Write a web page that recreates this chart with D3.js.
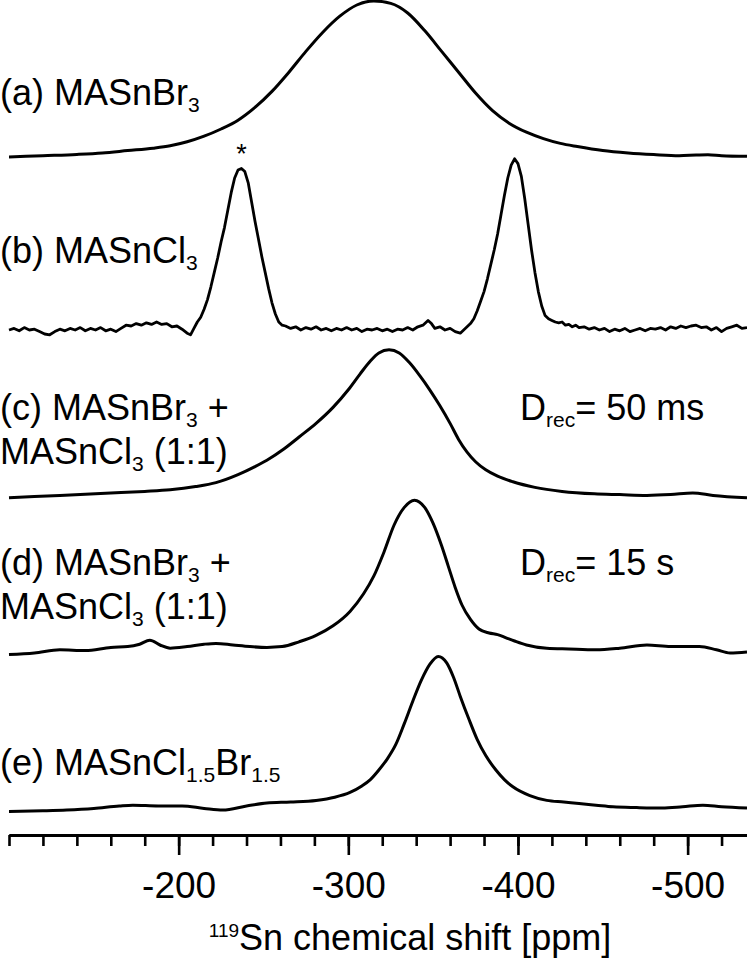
<!DOCTYPE html>
<html>
<head>
<meta charset="utf-8">
<script src="https://cdn.jsdelivr.net/npm/d3@7"></script>
<style>
  body { margin: 0; background: #fff; }
  text { font-family: "Liberation Sans", Arial, Helvetica, sans-serif; fill: #000; }
</style>
</head>
<body>
<div id="chart"></div>
<script>
// 119Sn spectra, [ppm, intensity]
const specA = [[-100,0],[-120,0.8],[-140,1.6],[-155,2.5],[-170,4],[-185,5.5],[-195,7],[-205,9.5],[-215,13],[-225,17.5],[-235,23],[-245,31],[-255,41],[-265,53],[-275,66],[-285,78],[-295,88],[-305,95],[-315,97.5],[-325,96],[-335,90],[-345,79],[-355,66],[-365,53],[-375,40],[-385,29],[-395,21],[-405,15.5],[-415,11.5],[-425,8.5],[-435,6.5],[-450,4],[-465,2.5],[-480,1.5],[-495,0.8],[-505,1.2],[-512,1.4],[-520,0.8],[-535,0.4]];

const specB = [[-100,0],[-103,1],[-106,-0.5],[-109,1.5],[-112,0],[-115,0.5],[-118,-1],[-121,-2.5],[-124,-3],[-127,-1],[-130,0.5],[-133,-0.5],[-136,1],[-139,0],[-142,1.5],[-145,-0.5],[-148,1],[-151,0],[-154,1.5],[-157,-0.5],[-160,0.5],[-163,-1],[-166,1],[-169,3],[-172,2.5],[-175,4],[-178,3],[-181,4.5],[-184,3.5],[-187,5],[-190,3.5],[-193,4],[-196,2],[-199,2.5],[-202,0.5],[-205,-2],[-207,-3],[-209,1],[-211,5],[-213,8],[-215,13],[-217,19],[-219,27],[-221,36],[-223,45],[-225,55],[-227,64],[-229,75],[-231,86],[-233,95],[-235,100],[-237,101],[-239,99],[-241,92],[-243,80],[-245,68],[-247,57],[-249,46],[-251,36],[-253,26],[-255,17],[-257,10],[-259,5],[-261,3],[-263,2.5],[-266,1],[-269,2],[-272,0],[-275,1.5],[-278,0.5],[-281,2],[-284,0],[-287,1],[-290,-0.5],[-293,1],[-296,0],[-299,1.5],[-302,0],[-305,1],[-308,-1],[-311,0.5],[-314,0],[-317,1],[-320,-0.5],[-323,0.5],[-326,-1],[-329,0.5],[-332,0],[-335,1.5],[-338,0],[-341,2],[-344,3],[-347,6],[-349,4],[-351,1],[-354,2],[-357,0],[-360,1],[-363,-1],[-366,-2],[-368,0],[-370,2],[-372,4],[-374,7],[-376,12],[-378,18],[-380,24],[-382,32],[-384,41],[-386,50],[-388,60],[-390,72],[-392,84],[-394,95],[-396,103],[-398,107],[-400,104],[-402,96],[-404,82],[-406,66],[-408,50],[-410,36],[-412,24],[-414,15],[-416,9],[-418,7],[-420,6],[-422,5],[-424,4.5],[-426,5],[-428,3],[-430,3.5],[-432,2],[-434,3],[-436,1.5],[-439,2],[-442,0.5],[-445,1.5],[-448,0],[-451,1],[-454,-1],[-457,0.5],[-460,-0.5],[-463,1],[-466,-1],[-469,0],[-472,1],[-475,-0.5],[-478,1],[-481,0.5],[-484,1.5],[-487,0],[-490,2],[-493,1],[-496,2.5],[-499,1.5],[-502,2.5],[-505,3],[-508,1.5],[-511,2],[-514,0],[-517,1.5],[-520,-1],[-523,1],[-526,2],[-529,3],[-532,1],[-535,1.5]];

const specC = [[-100,-0.5],[-130,1],[-160,2.5],[-180,3.5],[-195,4.5],[-210,6.5],[-222,9],[-235,14],[-245,19],[-252,23],[-262,30],[-271,37.5],[-281,46],[-291,56],[-300,67],[-307,77],[-313,85],[-318,90],[-324,92],[-330,90],[-336,84],[-342,76],[-348,67],[-354,57],[-360,46],[-365,36],[-370,28],[-375,22],[-381,17],[-388,13],[-397,9.5],[-410,6],[-426,3.5],[-445,2],[-460,1.5],[-476,1],[-490,1.5],[-503,2.5],[-515,1],[-535,-0.5]];

const specD = [[-100,-1],[-115,0],[-130,2],[-145,1.5],[-160,3.5],[-170,4],[-177,5.5],[-183,8],[-189,5],[-195,3],[-205,4],[-215,5.5],[-222,6],[-232,5],[-242,4],[-252,3.5],[-261,4],[-271,7],[-281,11],[-291,17],[-301,26],[-309,37],[-315,48],[-321,63],[-327,80],[-333,91],[-339,95.5],[-345,91],[-350,81],[-355,67],[-359,54],[-363,41],[-367,30],[-372,21],[-377,15],[-383,12.5],[-388,11.5],[-393,9.5],[-398,7.5],[-405,5],[-417,3],[-430,2.5],[-446,2],[-460,3],[-476,5],[-490,4],[-507,4],[-517,2],[-525,0],[-535,0.6]];

const specE = [[-100,-1],[-120,-0.5],[-134,0],[-150,1],[-165,2.5],[-173,3],[-188,2.5],[-202,2.5],[-215,1],[-226,0],[-240,2.5],[-252,4.4],[-266,5],[-281,6],[-292,8],[-301,11],[-308,15],[-313,19],[-318,25],[-323,32],[-328,41],[-333,54],[-338,68],[-343,81],[-348,91],[-353,96],[-358,92],[-362,83],[-366,71],[-371,57],[-376,44],[-381,34],[-387,25],[-392,19],[-397,14.5],[-407,9],[-417,6],[-427,5],[-436,4],[-446,3],[-456,2],[-470,1.5],[-485,1.2],[-497,2],[-509,3],[-520,2],[-535,1.2]];

const spectra = [specA, specB, specC, specD, specE];
const smoothCurve = [true, false, true, true, true];

// labels: each line is a list of [text, isSub]
const labelLines = [
  [[["(a) MASnBr", 0], ["3", 1]]],
  [[["(b) MASnCl", 0], ["3", 1]]],
  [[["(c) MASnBr", 0], ["3", 1], [" +", 0]], [["MASnCl", 0], ["3", 1], [" (1:1)", 0]]],
  [[["(d) MASnBr", 0], ["3", 1], [" +", 0]], [["MASnCl", 0], ["3", 1], [" (1:1)", 0]]],
  [[["(e) MASnCl", 0], ["1.5", 1], ["Br", 0], ["1.5", 1]]]
];
const delayLabels = [null, null, [["D", 0], ["rec", 1], ["= 50 ms", 0]], [["D", 0], ["rec", 1], ["= 15 s", 0]], null];

const majorTicks = [-200, -300, -400, -500];
const minorTicks = d3.range(-100, -521, -20);
const xTitle = [["119", "sup"], ["Sn chemical shift [ppm]", 0]];

// layout
const W = 747, H = 960;
const baselines = [157, 330, 497, 653, 810];
const labelY = [[105], [263], [420, 464], [575, 619], [775]];
const axisY = 835;

const svg = d3.select("#chart").append("svg")
  .attr("xmlns", "http://www.w3.org/2000/svg")
  .attr("width", W)
  .attr("height", H);

svg.append("rect").attr("width", W).attr("height", H).attr("fill", "#fff");

const x = d3.scaleLinear().domain([-100, -535]).range([9, 747]);
const y = d3.scaleLinear().domain([0, 100]).range([0, -160]);

// spectra
spectra.forEach((spec, i) => {
  const line = d3.line()
    .x(d => x(d[0]))
    .y(d => baselines[i] + y(d[1]))
    .curve(smoothCurve[i] ? d3.curveMonotoneX : d3.curveLinear);
  svg.append("path")
    .datum(spec)
    .attr("d", line)
    .attr("fill", "none")
    .attr("stroke", "#000")
    .attr("stroke-width", smoothCurve[i] ? 3 : 2.8)
    .attr("stroke-linejoin", "round");
});

// text with subscripts
function richText(parent, parts, px, py, size) {
  const t = parent.append("text").attr("x", px).attr("y", py).attr("font-size", size);
  let shifted = 0;
  parts.forEach(([s, kind]) => {
    const sp = t.append("tspan").text(s);
    if (kind === 1) {
      sp.attr("font-size", 21).attr("dy", 7 - shifted);
      shifted = 7;
    } else if (kind === "sup") {
      sp.attr("font-size", 19).attr("dy", -13 - shifted);
      shifted = -13;
    } else {
      sp.attr("dy", -shifted);
      shifted = 0;
    }
  });
  return t;
}

labelLines.forEach((lines, i) => {
  lines.forEach((parts, j) => richText(svg, parts, 0, labelY[i][j], 36));
});

delayLabels.forEach((parts, i) => {
  if (parts) richText(svg, parts, 520, labelY[i][0], 36);
});

// asterisk over the spinning sideband
svg.append("text")
  .attr("x", x(-237))
  .attr("y", 163)
  .attr("text-anchor", "middle")
  .attr("font-size", 27)
  .text("*");

// x axis
const gx = svg.append("g").attr("transform", `translate(0,${axisY})`);
gx.call(d3.axisBottom(x).tickValues(minorTicks).tickSize(11).tickSizeOuter(0).tickFormat(""));
const gMaj = svg.append("g").attr("transform", `translate(0,${axisY})`);
gMaj.call(d3.axisBottom(x).tickValues(majorTicks).tickSize(20).tickSizeOuter(0).tickPadding(17)
  .tickFormat(d => String(d)));

svg.selectAll(".domain").attr("stroke", "#000").attr("stroke-width", 3);
svg.selectAll(".tick line").attr("stroke", "#000").attr("stroke-width", 2.6);
gMaj.selectAll(".tick text")
  .attr("font-size", 37)
  .attr("font-family", "'Liberation Sans', Arial, sans-serif")
  .attr("fill", "#000");

const title = richText(svg, xTitle, 410, 950, 36);
title.attr("text-anchor", "middle");
</script>
</body>
</html>
